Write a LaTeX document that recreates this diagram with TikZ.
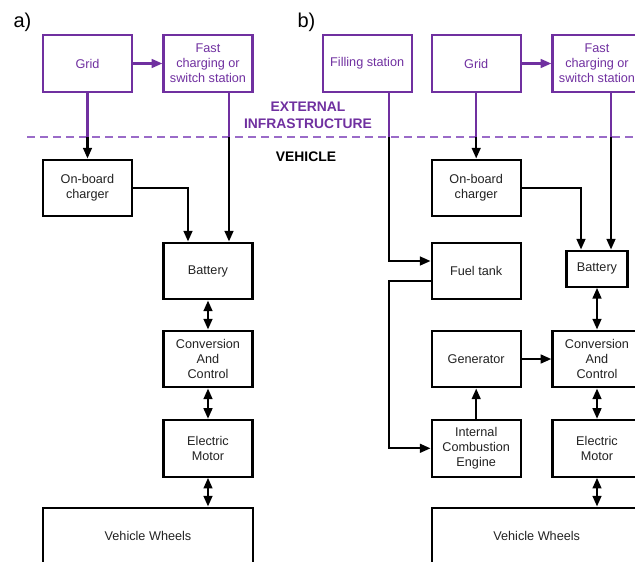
\documentclass[tikz,border=0pt]{standalone}
\usepackage{fontspec}
\setmainfont{Liberation Sans}
\usepackage{tikz}
\usetikzlibrary{arrows.meta, positioning, calc}
\definecolor{cpurple}{HTML}{7030A0}
\definecolor{cdash}{HTML}{9A6BC8}
\definecolor{ctext}{HTML}{222222}

\begin{document}
\begin{tikzpicture}[
  x=0.75pt, y=-0.75pt,
  box/.style={draw, line width=1.7pt, minimum width=66.75pt, minimum height=42.5pt, align=center, inner sep=1pt, text=ctext, font=\fontsize{9.5}{11.25}\selectfont},
  extbox/.style={box, draw=cpurple, text=cpurple},
  head/.style={align=center, inner sep=0pt, text=cpurple, font=\fontsize{10.4}{12.5}\selectfont\bfseries},
  sep/.style={cdash, line width=1.2pt, dash pattern=on 6pt off 3.75pt},
  pline/.style={cpurple, line width=1.7pt},
  arr/.style={-{Triangle[length=8pt, width=6.5pt]}, line width=1.7pt},
  dbl/.style={{Triangle[length=8pt, width=6.5pt]}-{Triangle[length=8pt, width=6.5pt]}, line width=1.7pt}
]
  \useasboundingbox (0,0) rectangle (635,561);
  \clip (0,0) rectangle (635,561);

  % Panel labels
  \node[inner sep=0pt, font=\fontsize{15}{15}\selectfont] (laba) at (22.5,22) {a)};
  \node[inner sep=0pt, font=\fontsize{15}{15}\selectfont] (labb) at (306.5,22) {b)};

  % Boundary between infrastructure and vehicle
  \coordinate (sepl) at (27,137);
  \coordinate (sepr) at (640,137);
  \draw[sep] (sepl) -- (sepr);
  \node[head] (ext) at (308,115) {EXTERNAL\\INFRASTRUCTURE};
  \node[head, text=black] (veh) at (306,157) {VEHICLE};

  % a) battery electric vehicle
  \node[extbox] (grida) at (87.5,63.5) {Grid};
  \node[extbox] (fasta) at (208,63.5) {Fast\\charging or\\switch station};
  \node[box] (obca) at (87.5,188) {On-board\\charger};
  \node[box] (bata) at (208,271) {Battery};
  \node[box] (conva) at (208,359) {Conversion\\And\\Control};
  \node[box] (motora) at (208,448.3) {Electric\\Motor};
  \node[box, minimum width=157.5pt] (wheelsa) at (148,536) {Vehicle Wheels};

  % b) range extended vehicle
  \node[extbox] (fill) at (367.2,63.5) {Filling station};
  \node[extbox] (gridb) at (476.2,63.5) {Grid};
  \node[extbox] (fastb) at (597,63.5) {Fast\\charging or\\switch station};
  \node[box] (obcb) at (476.2,188) {On-board\\charger};
  \node[box] (fuel) at (476.2,271) {Fuel tank};
  \node[box, minimum width=45.75pt, minimum height=27pt] (batb) at (597,268.7) {Battery};
  \node[box] (gen) at (476.2,359) {Generator};
  \node[box] (convb) at (597,359) {Conversion\\And\\Control};
  \node[box] (ice) at (476.2,448.3) {Internal\\Combustion\\Engine};
  \node[box] (motorb) at (597,448.3) {Electric\\Motor};
  \node[box, minimum width=157.5pt] (wheelsb) at (536.7,536) {Vehicle Wheels};

  % Arrows a)
  \coordinate (ga) at (grida.south |- sepl);
  \coordinate (fa) at ([xshift=15.75pt]fasta.south |- sepl);
  \draw[arr, cpurple] (grida) -- (fasta);
  \draw[pline] (grida) -- (ga);
  \draw[arr] (ga) -- (obca);
  \draw[pline] (fasta.south -| fa) -- (fa);
  \draw[arr] (fa) -- (fa |- bata.north);
  \draw[arr] (obca.east) -| ([xshift=-15pt]bata.north);
  \draw[dbl] (bata) -- (conva);
  \draw[dbl] (conva) -- (motora);
  \draw[dbl] (motora) -- (motora |- wheelsa.north);

  % Arrows b)
  \coordinate (fs) at ([xshift=16.5pt]fill.south |- sepl);
  \coordinate (gb) at (gridb.south |- sepl);
  \coordinate (fb) at ([xshift=10.5pt]fastb.south |- sepl);
  \draw[arr, cpurple] (gridb) -- (fastb);
  \draw[pline] (fill.south -| fs) -- (fs);
  \draw[arr] (fs) |- ([yshift=7.5pt]fuel.west);
  \draw[arr] ([yshift=-7.5pt]fuel.west) -| (fs |- ice.west) -- (ice.west);
  \draw[pline] (gridb) -- (gb);
  \draw[arr] (gb) -- (obcb);
  \draw[pline] (fastb.south -| fb) -- (fb);
  \draw[arr] (fb) -- (fb |- batb.north);
  \draw[arr] (obcb.east) -| ([xshift=-12pt]batb.north);
  \draw[arr] (ice) -- (gen);
  \draw[arr] (gen) -- (convb);
  \draw[dbl] (batb) -- (convb);
  \draw[dbl] (convb) -- (motorb);
  \draw[dbl] (motorb) -- (motorb |- wheelsb.north);

\end{tikzpicture}
\end{document}
